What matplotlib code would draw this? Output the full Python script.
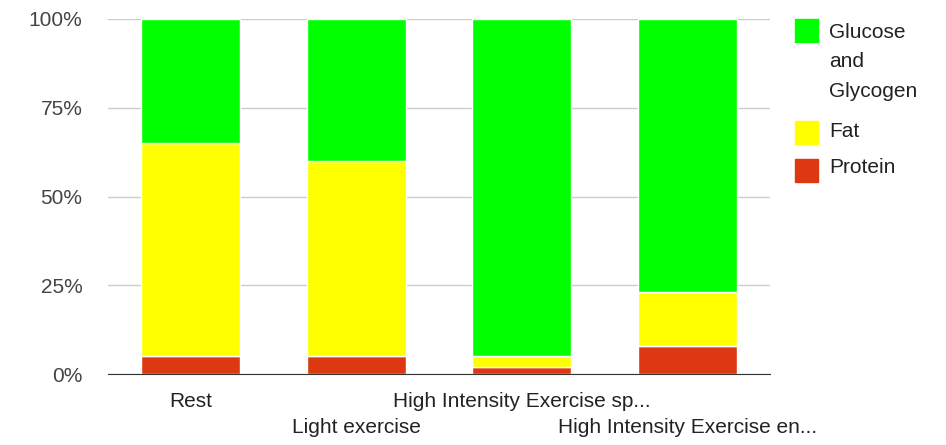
import matplotlib.pyplot as plt
from matplotlib.patches import Rectangle
import numpy as np

plt.rcParams['font.family'] = ['Liberation Sans', 'DejaVu Sans']

categories = ["Rest", "Light exercise", "High Intensity Exercise sp...",
              "High Intensity Exercise en..."]
protein = [5, 5, 2, 8]
fat = [60, 55, 3, 15]
glucose = [35, 40, 95, 77]
series_names = ["Protein", "Fat", "Glucose\nand\nGlycogen"]
colors = ["#DC3912", "#FFFF00", "#00FF00"]

W, H = 946, 445
fig = plt.figure(figsize=(W / 100, H / 100), dpi=100)
ax = fig.add_axes([108 / W, 1 - 374 / H, 662 / W, 355 / H])

x = np.arange(len(categories))
bottom = np.zeros(len(categories))
for vals, col in zip([protein, fat, glucose], colors):
    ax.bar(x, vals, width=0.6, bottom=bottom, color=col,
           edgecolor="white", linewidth=1.0, zorder=3)
    bottom += np.array(vals)

ax.set_xlim(-0.5, 3.5)
ax.set_ylim(0, 100)
ax.set_yticks([0, 25, 50, 75, 100])
ax.set_yticklabels(["0%", "25%", "50%", "75%", "100%"])
ax.tick_params(axis="y", length=0, pad=18.5, labelsize=15, labelcolor="#444444")
ax.set_xticks([])
ax.grid(axis="y", color="#cccccc", linewidth=1, zorder=0)
for s in ["top", "right", "left"]:
    ax.spines[s].set_visible(False)
ax.spines["bottom"].set_color("#333333")
ax.spines["bottom"].set_zorder(4)

# staggered category labels (baseline positions in axes fraction)
for i, name in enumerate(categories):
    yy = -0.093 if i % 2 == 0 else -0.166
    ax.text(x[i], yy, name, transform=ax.get_xaxis_transform(),
            ha="center", va="baseline", fontsize=15, color="#222222")

# legend, drawn by hand to match the wrapped first entry
legend_items = list(zip(series_names, colors))[::-1]
square_top = [19, 121, 159]
line_base = [[38, 67, 97], [137], [173]]
for (name, col), top, bases in zip(legend_items, square_top, line_base):
    fig.patches.append(Rectangle((795 / W, 1 - (top + 23) / H), 23 / W, 23 / H,
                                 transform=fig.transFigure, color=col))
    for line, b in zip(name.split("\n"), bases):
        fig.text(829 / W, 1 - b / H, line, ha="left", va="baseline",
                 fontsize=15, color="#222222")

fig.savefig("out.png", dpi=100)
